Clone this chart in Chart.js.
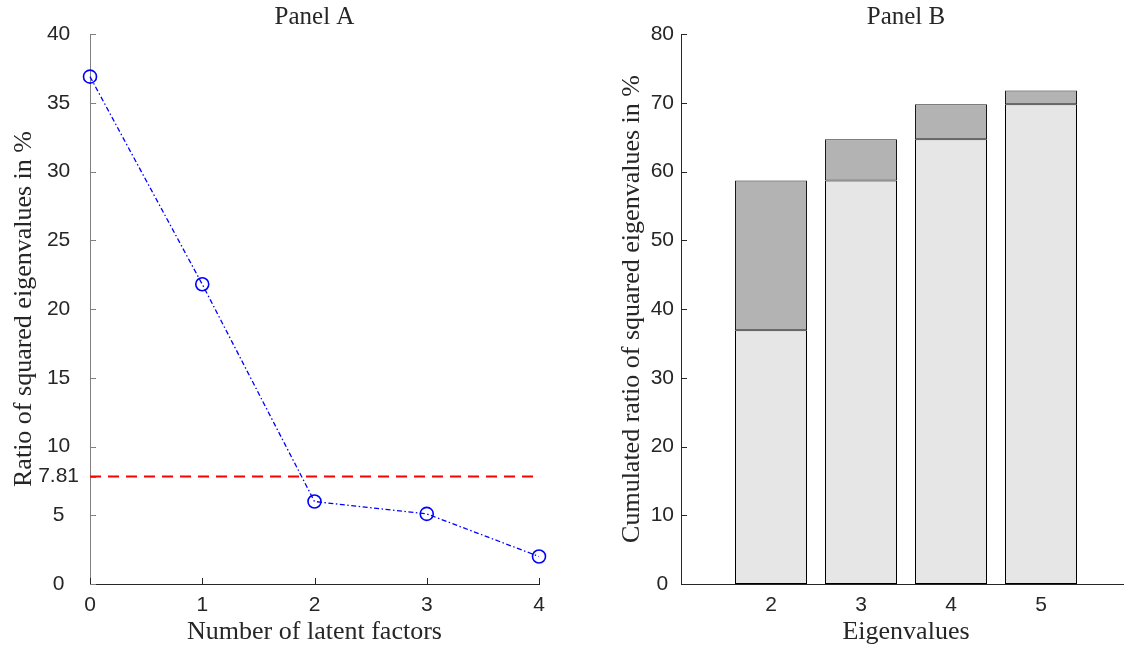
<!DOCTYPE html>
<html><head><meta charset="utf-8">
<script src="https://cdn.jsdelivr.net/npm/chart.js@4.4.1/dist/chart.umd.min.js"></script>
<style>
html,body{margin:0;padding:0;background:#fff;overflow:hidden;width:1124px;height:653px;position:relative;}
#wa{position:absolute;left:0;top:0;width:560px;height:653px;}
#wb{position:absolute;left:590px;top:0;width:560px;height:653px;}
</style></head><body>
<div id="wa"><canvas id="ca"></canvas></div>
<div id="wb"><canvas id="cb"></canvas></div>
<script>
// ---- data ----
const factorsX = [0, 1, 2, 3, 4];
const ratioPct = [36.9, 21.8, 6.0, 5.1, 2.0];
const threshold = 7.81;
const yTicksA = [0, 5, 10, 15, 20, 25, 30, 35, 40];
const eigenX = [2, 3, 4, 5];
const cumBase = [36.9, 58.7, 64.7, 69.8];
const cumAdded = [21.8, 6.0, 5.1, 2.0];
const yTicksB = [0, 10, 20, 30, 40, 50, 60, 70, 80];

const SANS = "'Liberation Sans', Arial, sans-serif";
const SERIF = "'Liberation Serif', 'Times New Roman', serif";
const TXT = '#262626';
Chart.defaults.font.family = SANS;
Chart.defaults.color = TXT;

const panelTitle = {
  id: 'panelTitle',
  afterDraw(chart, args, opts) {
    const {ctx, chartArea} = chart;
    ctx.save();
    ctx.font = '25px ' + SERIF;
    ctx.fillStyle = TXT;
    ctx.textAlign = 'center';
    ctx.textBaseline = 'middle';
    ctx.fillText(opts.text, (chartArea.left + opts.rightEdge) / 2, 17);
    ctx.restore();
  }
};

const inwardTicks = {
  id: 'inwardTicks',
  beforeDatasetsDraw(chart, args, opts) {
    const {ctx} = chart;
    ctx.save();
    ctx.lineWidth = 1;
    const sx = chart.scales.x, sy = chart.scales.y;
    ctx.strokeStyle = opts.xColor;
    sx.ticks.forEach(t => {
      const p = Math.round(sx.getPixelForValue(t.value)) + 0.5;
      ctx.beginPath(); ctx.moveTo(p, sy.bottom); ctx.lineTo(p, sy.bottom - 6); ctx.stroke();
    });
    ctx.strokeStyle = opts.yColor;
    sy.ticks.forEach(t => {
      const p = Math.round(sy.getPixelForValue(t.value)) + 0.5;
      ctx.beginPath(); ctx.moveTo(sx.left, p); ctx.lineTo(sx.left + 6, p); ctx.stroke();
    });
    ctx.restore();
  }
};

// ---- Panel A ----
new Chart(document.getElementById('ca'), {
  type: 'line',
  data: {
    datasets: [
      {
        data: [{x: factorsX[0], y: threshold}, {x: factorsX[factorsX.length - 1], y: threshold}],
        borderColor: '#ff0000', borderWidth: 2, borderDash: [11, 7],
        pointRadius: 0, clip: false, order: 2
      },
      {
        data: factorsX.map((x, i) => ({x: x, y: ratioPct[i]})),
        borderColor: '#0000ff', borderWidth: 1.3, borderDash: [5, 2.5, 1.5, 2.5],
        pointStyle: 'circle', pointRadius: 6.5, pointBorderWidth: 1.6,
        pointBackgroundColor: 'rgba(0,0,0,0)', pointBorderColor: '#0000ff',
        tension: 0, clip: false, order: 1
      }
    ]
  },
  options: {
    responsive: true, maintainAspectRatio: false, animation: false, events: [],
    layout: {padding: {left: 0, right: 21, top: 34, bottom: 0}},
    plugins: {
      legend: {display: false}, tooltip: {enabled: false},
      panelTitle: {text: 'Panel A', rightEdge: 539},
      inwardTicks: {xColor: '#262626', yColor: '#808080'}
    },
    scales: {
      x: {
        type: 'linear', min: 0, max: 4,
        afterBuildTicks: s => { s.ticks = factorsX.map(v => ({value: v})); },
        afterFit: s => { s.height = 69; },
        grid: {display: false, drawTicks: false},
        border: {display: true, color: '#262626', width: 1},
        ticks: {font: {size: 21}, color: TXT, padding: 9, callback: v => String(v)},
        title: {display: true, text: 'Number of latent factors', font: {size: 26, family: SERIF}, color: TXT, padding: {top: 0, bottom: 5}}
      },
      y: {
        type: 'linear', min: 0, max: 40,
        afterBuildTicks: s => { s.ticks = yTicksA.concat([threshold]).sort((a, b) => a - b).map(v => ({value: v})); },
        afterFit: s => { s.width = 90; },
        grid: {display: false, drawTicks: false},
        border: {display: true, color: '#808080', width: 1},
        ticks: {font: {size: 21}, color: TXT, padding: 11, crossAlign: 'center', callback: v => String(v)},
        title: {display: true, text: 'Ratio of squared eigenvalues in %', font: {size: 26, family: SERIF}, color: TXT, padding: {top: 9, bottom: 0}}
      }
    }
  },
  plugins: [panelTitle, inwardTicks]
});

// ---- Panel B ----
new Chart(document.getElementById('cb'), {
  type: 'bar',
  data: {
    datasets: [
      {
        data: eigenX.map((x, i) => ({x: x, y: cumBase[i]})),
        backgroundColor: '#e6e6e6', borderColor: '#000000', borderWidth: 1, borderSkipped: false,
        barPercentage: 0.8, categoryPercentage: 1
      },
      {
        data: eigenX.map((x, i) => ({x: x, y: cumAdded[i]})),
        backgroundColor: '#b3b3b3', borderColor: '#1a1a1a', borderWidth: 1, borderSkipped: false,
        barPercentage: 0.8, categoryPercentage: 1
      }
    ]
  },
  options: {
    responsive: true, maintainAspectRatio: false, animation: false, events: [],
    layout: {padding: {left: 10, right: 19, top: 34, bottom: 0}},
    plugins: {
      legend: {display: false}, tooltip: {enabled: false},
      panelTitle: {text: 'Panel B', rightEdge: 541},
      inwardTicks: {xColor: '#262626', yColor: '#262626'}
    },
    scales: {
      x: {
        type: 'linear', min: 1, max: 6, stacked: true, offset: false,
        afterBuildTicks: s => { s.ticks = eigenX.map(v => ({value: v})); },
        afterFit: s => { s.height = 69; },
        grid: {display: false, drawTicks: false},
        border: {display: true, color: '#262626', width: 1},
        ticks: {font: {size: 21}, color: TXT, padding: 9, callback: v => String(v)},
        title: {display: true, text: 'Eigenvalues', font: {size: 26, family: SERIF}, color: TXT, padding: {top: 0, bottom: 5}}
      },
      y: {
        type: 'linear', min: 0, max: 80, stacked: true,
        afterBuildTicks: s => { s.ticks = yTicksB.map(v => ({value: v})); },
        afterFit: s => { s.width = 81; },
        grid: {display: false, drawTicks: false},
        border: {display: true, color: '#262626', width: 1},
        ticks: {font: {size: 21}, color: TXT, padding: 7, crossAlign: 'center', callback: v => String(v)},
        title: {display: true, text: 'Cumulated ratio of squared eigenvalues in %', font: {size: 26, family: SERIF}, color: TXT, padding: {top: 17, bottom: 0}}
      }
    }
  },
  plugins: [panelTitle, inwardTicks]
});
</script>
</body></html>
